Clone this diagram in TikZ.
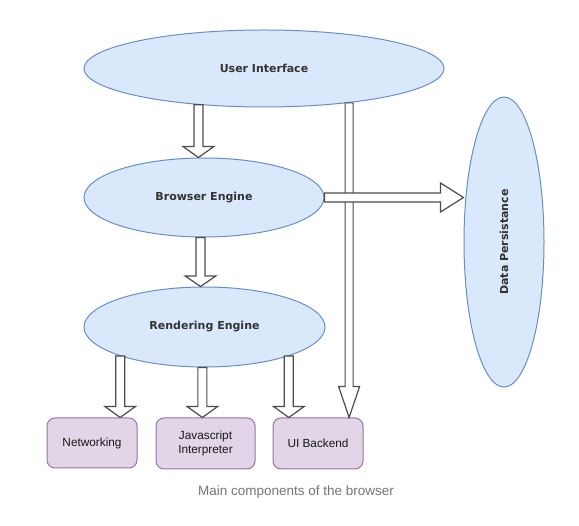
\documentclass[tikz,border=0pt]{standalone}
\usepackage{fontspec}
\setmainfont{Liberation Sans}
\newfontfamily\handfont{DejaVu Sans}
\usetikzlibrary{calc}
\usetikzlibrary{shapes.geometric}
\definecolor{compfill}{HTML}{DAE8FC}
\definecolor{compdraw}{HTML}{6C8EBF}
\definecolor{partfill}{HTML}{E1D5E7}
\definecolor{partdraw}{HTML}{9673A6}
\definecolor{captiongray}{HTML}{757575}
\newcommand{\blockarrow}[5][4.5pt]{%
	\coordinate (s) at (#2);
	\coordinate (e) at (#3);
	\coordinate (h) at ($(e)!#4!(s)$);
	\draw[arrowbody] ($(s)!#1!90:(e)$) -- ($(h)!#1!-90:(s)$) -- ($(h)!#5!-90:(s)$) -- (e) -- ($(h)!#5!90:(s)$) -- ($(h)!#1!90:(s)$) -- ($(s)!#1!-90:(e)$) -- cycle;
}

\begin{document}
\begin{tikzpicture}[x=1pt, y=-1pt,
	comp/.style={ellipse, draw=compdraw, fill=compfill, line width=1pt, inner sep=0pt, text=black!80, font=\handfont\bfseries\fontsize{11}{13}\selectfont},
	part/.style={rectangle, rounded corners=8pt, draw=partdraw, fill=partfill, line width=1pt, inner sep=0pt, align=center, text=black!90, font=\fontsize{11.8}{14.5}\selectfont},
	arrowbody/.style={draw=black!70, fill=white, line width=1.2pt, line join=miter}]
\useasboundingbox (0,0) rectangle (579,526);
\node[comp, minimum width=360pt, minimum height=77pt] (ui) at (264,68.5) {User Interface};
\node[comp, minimum width=240pt, minimum height=79pt] (be) at (204,197.5) {Browser Engine};
\node[comp, minimum width=241pt, minimum height=80pt] (re) at (204.5,327) {Rendering Engine};
\node[comp, minimum width=80pt, minimum height=290pt] (dp) at (504,242) {\rotatebox{90}{Data Persistance}};
\node[part, minimum width=90pt, minimum height=50pt] (net) at (92,443) {Networking};
\node[part, minimum width=99pt, minimum height=51pt] (js) at (205.5,443.5) {Javascript\\Interpreter};
\node[part, minimum width=90pt, minimum height=51pt] (uib) at (318,443.5) {UI Backend};
\node[font=\fontsize{13.5}{16}\selectfont, text=captiongray] (cap) at (296,492) {Main components of the browser};
\blockarrow{ui.209}{ui.209 |- be.north}{11pt}{15.5pt}
\blockarrow{be.265}{be.265 |- re.north}{10.5pt}{15.3pt}
\foreach \a/\b in {199/net, 267/js, 341/uib} {
	\blockarrow{re.\a}{re.\a |- \b.north}{11pt}{15.3pt}
	};
\blockarrow[4pt]{ui.338}{ui.338 |- uib.north}{31pt}{10.5pt}
\blockarrow{be.east}{be.east -| dp.west}{23pt}{14.5pt}
\end{tikzpicture}
\end{document}
